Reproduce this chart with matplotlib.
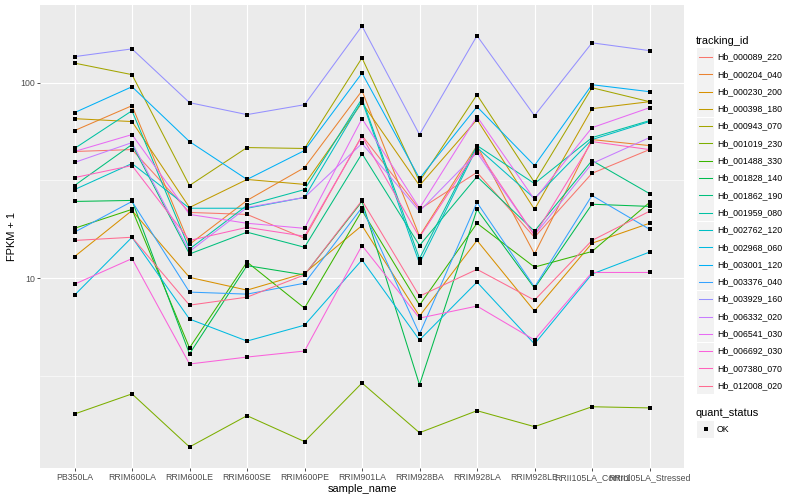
import numpy as np
import matplotlib
matplotlib.use("Agg")
import matplotlib.pyplot as plt
from matplotlib.ticker import FixedLocator, NullFormatter
from matplotlib.patches import Rectangle
from matplotlib.lines import Line2D

plt.rcParams['font.family'] = ['Liberation Sans', 'DejaVu Sans']

samples = ['PB350LA', 'RRIM600LA', 'RRIM600LE', 'RRIM600SE', 'RRIM600PE', 'RRIM901LA',
           'RRIM928BA', 'RRIM928LA', 'RRIM928LE', 'RRII105LA_Control', 'RRII105LA_Stressed']

# FPKM + 1 per tracking_id
Hb_000089_220 = [44.5, 45.5, 21.7, 21.2, 16.0, 53.7, 22.5, 34.8, 16.2, 34.4, 45.5]
Hb_000204_040 = [56.9, 76.3, 14.9, 25.0, 36.8, 91.0, 16.4, 47.7, 13.3, 51.2, 47.7]
Hb_000230_200 = [12.9, 22.2, 10.1, 8.69, 10.6, 18.6, 6.40, 15.6, 6.79, 15.1, 19.1]
Hb_000398_180 = [65.5, 63.3, 23.0, 32.0, 30.2, 79.1, 29.8, 64.8, 22.5, 73.7, 80.0]
Hb_000943_070 = [126, 110, 29.8, 46.6, 46.1, 134, 31.3, 86.8, 30.9, 94.3, 80.0]
Hb_001019_230 = [2.02, 2.56, 1.37, 1.98, 1.46, 2.91, 1.62, 2.10, 1.74, 2.20, 2.17]
Hb_001488_330 = [18.0, 22.5, 4.40, 12.1, 7.03, 22.2, 7.28, 19.1, 11.4, 13.7, 24.4]
Hb_001828_140 = [24.7, 25.0, 4.10, 11.6, 10.4, 24.7, 2.85, 22.5, 8.89, 23.9, 23.3]
Hb_001862_190 = [29.8, 48.3, 13.3, 17.2, 14.4, 43.4, 14.7, 33.1, 17.4, 40.0, 27.1]
Hb_001959_080 = [46.1, 71.9, 14.1, 23.6, 28.4, 82.9, 12.6, 47.7, 30.5, 52.4, 64.0]
Hb_002762_120 = [28.4, 38.6, 22.8, 22.8, 25.9, 80.9, 11.9, 46.6, 25.6, 51.2, 63.3]
Hb_002968_060 = [8.19, 16.2, 6.18, 4.77, 5.75, 12.4, 4.83, 9.55, 4.61, 10.5, 13.6]
Hb_003001_120 = [70.3, 95.4, 50.0, 32.0, 45.0, 112, 32.4, 75.4, 37.7, 97.7, 90.0]
Hb_003376_040 = [17.2, 24.7, 8.49, 8.29, 9.43, 23.0, 5.18, 24.4, 9.00, 26.5, 17.8]
Hb_003929_160 = [136, 149, 79.1, 68.7, 77.2, 195, 54.3, 174, 67.9, 160, 146]
Hb_006332_020 = [39.1, 49.4, 13.7, 23.0, 25.9, 48.9, 22.0, 43.9, 16.6, 38.6, 52.4]
Hb_006541_030 = [44.5, 54.3, 21.2, 19.1, 18.0, 65.5, 22.8, 67.1, 25.3, 58.9, 74.5]
Hb_006692_030 = [9.32, 12.6, 3.64, 3.95, 4.24, 14.7, 6.25, 7.20, 4.83, 10.7, 10.7]
Hb_007380_070 = [32.7, 37.7, 15.6, 18.2, 16.4, 53.1, 16.2, 45.5, 16.6, 50.0, 45.5]
Hb_012008_020 = [15.6, 16.2, 7.28, 8.00, 10.4, 25.0, 8.09, 11.1, 7.72, 15.6, 22.0]

tracking_ids = ['Hb_000089_220', 'Hb_000204_040', 'Hb_000230_200', 'Hb_000398_180',
                'Hb_000943_070', 'Hb_001019_230', 'Hb_001488_330', 'Hb_001828_140',
                'Hb_001862_190', 'Hb_001959_080', 'Hb_002762_120', 'Hb_002968_060',
                'Hb_003001_120', 'Hb_003376_040', 'Hb_003929_160', 'Hb_006332_020',
                'Hb_006541_030', 'Hb_006692_030', 'Hb_007380_070', 'Hb_012008_020']
series = [Hb_000089_220, Hb_000204_040, Hb_000230_200, Hb_000398_180, Hb_000943_070,
          Hb_001019_230, Hb_001488_330, Hb_001828_140, Hb_001862_190, Hb_001959_080,
          Hb_002762_120, Hb_002968_060, Hb_003001_120, Hb_003376_040, Hb_003929_160,
          Hb_006332_020, Hb_006541_030, Hb_006692_030, Hb_007380_070, Hb_012008_020]

# ggplot2 default hue palette for 20 levels
colors = ["#F8766D", "#EA8331", "#D89000", "#C09B00", "#A3A500", "#7CAE00", "#39B600",
          "#00BB4E", "#00BF7D", "#00C1A3", "#00BFC4", "#00BAE0", "#00B0F6", "#35A2FF",
          "#9590FF", "#C77CFF", "#E76BF3", "#FA62DB", "#FF62BC", "#FF6C91"]

W, H = 800, 500
fig = plt.figure(figsize=(8, 5), dpi=100)
ax = fig.add_axes([40 / W, 32 / H, 644 / W, 463 / H])
ax.set_facecolor('#EBEBEB')
for s in ax.spines.values():
    s.set_visible(False)

x = np.arange(len(samples))
for vals, c in zip(series, colors):
    ax.plot(x, vals, color=c, lw=0.75, zorder=2)
for vals in series:
    ax.plot(x, vals, ls='none', marker='s', ms=2.2, mew=0, color='black', zorder=3)

ax.set_yscale('log')
lo = np.log10(min(min(v) for v in series))
hi = np.log10(max(max(v) for v in series))
pad = (hi - lo) * 0.05
ax.set_ylim(10 ** (lo - pad), 10 ** (hi + pad))
ax.set_xlim(-0.6, len(samples) - 0.4)

ax.yaxis.set_major_locator(FixedLocator([10, 100]))
ax.set_yticklabels(['10', '100'])
ax.yaxis.set_minor_locator(FixedLocator([10 ** 0.5, 10 ** 1.5]))
ax.yaxis.set_minor_formatter(NullFormatter())
ax.set_xticks(x)
ax.set_xticklabels(samples)

ax.grid(which='major', color='white', lw=0.8, zorder=0)
ax.grid(which='minor', axis='y', color='white', lw=0.4, zorder=0)
ax.set_axisbelow(True)
ax.tick_params(which='major', length=2, width=0.6, color='#333333', pad=1.6,
               labelsize=6.3, labelcolor='#4D4D4D')
ax.tick_params(which='minor', length=0)

ax.set_xlabel('sample_name', fontsize=7.9, color='black', labelpad=1.5)
ax.set_ylabel('FPKM + 1', fontsize=7.9, color='black', labelpad=2)

# legend drawn in figure pixel coords (ggplot style keys)
def fx(px):
    return px / W

def fy(py):
    return 1 - py / H

fig.text(fx(696), fy(41), 'tracking_id', fontsize=7.9, va='center', ha='left')
for i, (name, c) in enumerate(zip(tracking_ids, colors)):
    yc = 57 + i * 17.3
    fig.add_artist(Rectangle((fx(697), fy(yc + 8.5)), 17 / W, 17 / H,
                             transform=fig.transFigure, facecolor='#F2F2F2', edgecolor='none'))
    fig.add_artist(Line2D([fx(699), fx(712)], [fy(yc), fy(yc)], transform=fig.transFigure,
                          color=c, lw=0.75))
    fig.text(fx(717), fy(yc), name, fontsize=6.3, va='center', ha='left')

fig.text(fx(696), fy(413), 'quant_status', fontsize=7.9, va='center', ha='left')
yc = 429
fig.add_artist(Rectangle((fx(697), fy(yc + 8.5)), 17 / W, 17 / H,
                         transform=fig.transFigure, facecolor='#F2F2F2', edgecolor='none'))
fig.add_artist(Line2D([fx(705.5)], [fy(yc)], transform=fig.transFigure, ls='none',
                      marker='s', ms=2.2, mew=0, color='black'))
fig.text(fx(717), fy(yc), 'OK', fontsize=6.3, va='center', ha='left')

fig.savefig('out.png', dpi=100)
